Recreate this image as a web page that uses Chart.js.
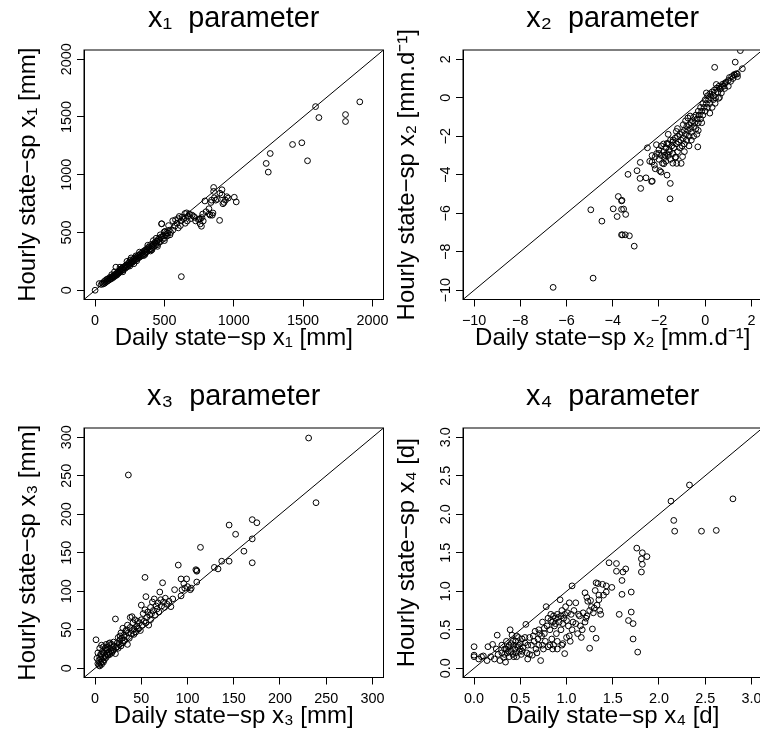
<!DOCTYPE html>
<html>
<head>
<meta charset="utf-8">
<script src="https://cdn.jsdelivr.net/npm/chart.js@4/dist/chart.umd.min.js"></script>
<style>
  body { margin: 0; background: #fff; }
  #wrap { position: relative; width: 760px; height: 735px; overflow: hidden; background: #fff; }
  canvas { position: absolute; }
</style>
</head>
<body>
<div id="wrap">
  <canvas id="c1" width="400" height="378" style="left:0;top:0"></canvas>
  <canvas id="c2" width="400" height="378" style="left:379px;top:0"></canvas>
  <canvas id="c3" width="400" height="378" style="left:0;top:378px"></canvas>
  <canvas id="c4" width="400" height="378" style="left:379px;top:378px"></canvas>
</div>
<script>
const FONT = "'Liberation Sans', Arial, Helvetica, sans-serif";

// x1 : [daily, hourly]
const x1Ticks = [0, 500, 1000, 1500, 2000];
const x1Pairs = [
  [0,0],[30,58],[45,50],[52,62],[60,55],[65,75],[70,62],[75,85],[80,72],[85,95],[90,80],[95,100],
  [100,88],[105,110],[108,95],[112,100],[118,115],[120,102],[125,118],[130,110],[133,125],[138,118],
  [142,135],[145,125],[150,200],[150,140],[155,130],[158,150],[162,140],[165,160],[170,148],[172,170],
  [176,155],[180,175],[183,162],[188,185],[190,170],[195,190],[198,175],[202,200],[205,180],[210,195],
  [214,205],[218,190],[222,215],[226,200],[230,220],[234,206],[238,232],[242,218],[246,240],[250,225],
  [254,262],[258,236],[262,250],[266,238],[270,262],[274,248],[278,270],[282,255],[286,280],[290,262],
  [294,298],[298,270],[302,290],[306,276],[310,300],[315,282],[320,305],[325,290],[330,318],[335,298],
  [340,325],[345,310],[350,338],[355,318],[360,345],[365,330],[370,355],[375,335],[380,368],[385,345],
  [390,375],[395,352],[400,395],[405,360],[410,385],[415,370],[420,400],[425,380],[430,412],[435,388],
  [440,405],[445,425],[450,395],[455,440],[460,415],[465,450],[470,420],[480,575],[475,460],[485,440],
  [490,470],[498,505],[510,480],[515,500],[525,495],[535,520],[540,480],[560,602],[480,576],[627,634],
  [648,664],[607,639],[660,670],[680,660],[700,650],[690,620],[665,600],[640,620],[615,560],[600,540],
  [590,580],[575,555],[560,520],[545,500],[530,560],[520,470],[505,510],[500,450],[600,620],[620,600],
  [580,610],[650,580],[670,640],[710,640],[622,118],
  [200,160],[250,210],[300,255],[350,300],[400,340],[450,380],[260,280],[320,330],[380,390],[420,430],
  [140,160],[180,200],[230,250],[500,430],[470,480],[440,450],[120,135],[280,230],[360,310],[410,350],
  [855,890],[855,856],[915,870],[915,827],[922,749],[960,798],[1004,805],[1018,765],[898,605],[792,773],
  [821,706],[823,660],[850,669],[881,787],[718,631],[751,617],[776,660],[758,574],[767,554],[940,780],
  [950,810],[930,760],[870,780],[840,780],[860,800],[845,650],[830,650],[835,760],[760,620],[745,610],
  [770,630],[800,680],[900,840],[725,600],[780,600],
  [1590,1590],[1614,1495],[1806,1521],[1806,1461],[1909,1631],[1424,1262],[1491,1277],[1532,1121],
  [1263,1184],[1234,1098],[1249,1023]
];

// x2 : [daily, hourly]
const x2Ticks = [-10, -8, -6, -4, -2, 0, 2];
const x2Pairs = [
  [-6.58,-9.85],[-4.85,-9.37],[-4.95,-5.82],[-4.47,-6.41],[-3.98,-5.77],[-3.76,-5.13],[-3.62,-5.36],
  [-3.6,-5.33],[-3.81,-6.17],[-3.62,-5.80],[-3.53,-5.78],[-3.44,-6.06],[-3.62,-7.12],[-3.46,-7.12],
  [-3.28,-7.17],[-3.58,-7.12],[-3.07,-7.71],[-3.34,-3.98],[-2.95,-3.79],[-2.81,-3.36],[-2.82,-4.19],
  [-2.79,-4.71],[-2.56,-4.16],[-2.30,-3.34],[-2.32,-4.35],[-2.29,-4.33],[-2.16,-3.69],[-2.11,-2.44],
  [-2.16,-3.06],[-2.01,-2.89],[-1.97,-3.79],[-1.91,-3.86],[-1.65,-4.02],[-1.51,-4.45],[-1.52,-5.25],
  [-1.79,-3.43],[-1.75,-2.98],[-1.65,-2.37],[-1.55,-2.81],[-1.39,-2.20],[-1.27,-3.08],[-1.23,-3.41],
  [-1.04,-3.41],[-0.98,-3.06],[-0.32,-2.55],[-0.36,-1.90],
  [-2.4,-3.3],[-2.3,-3.0],[-2.2,-3.5],[-2.1,-2.9],[-2.0,-3.2],[-2.0,-2.7],[-1.9,-3.0],[-1.9,-2.5],
  [-1.85,-3.4],[-1.8,-2.8],[-1.8,-2.4],[-1.75,-3.1],[-1.7,-2.6],[-1.7,-3.3],[-1.65,-2.9],[-1.6,-2.4],
  [-1.6,-3.0],[-1.55,-2.7],[-1.5,-2.2],[-1.5,-3.2],[-1.45,-2.5],[-1.4,-2.9],[-1.4,-2.3],[-1.35,-2.6],
  [-1.3,-2.1],[-1.3,-3.1],[-1.25,-2.4],[-1.2,-2.8],[-1.2,-2.0],[-1.15,-2.3],[-1.1,-2.6],[-1.1,-1.9],
  [-1.05,-2.2],[-1.0,-2.5],[-1.0,-1.8],[-0.95,-2.1],[-0.9,-1.7],[-0.9,-2.4],[-0.85,-1.9],[-0.8,-1.5],
  [-0.8,-2.2],[-0.75,-1.7],[-0.7,-1.4],[-0.7,-2.0],[-0.65,-1.6],[-0.6,-1.3],[-0.6,-1.8],[-0.55,-1.2],
  [-0.5,-1.5],[-0.5,-1.0],[-0.45,-1.3],[-0.4,-0.9],[-0.4,-1.6],[-0.35,-1.1],[-0.3,-0.7],[-0.3,-1.3],
  [-0.25,-0.9],[-0.2,-0.5],[-0.2,-1.1],[-0.15,-0.7],[-0.1,-0.3],[-0.1,-0.9],[-0.05,-0.5],[0.0,-0.1],
  [0.0,-0.7],[0.05,-0.3],[0.1,0.1],[0.1,-0.5],[0.15,-0.1],[0.2,0.2],[0.2,-0.3],[0.25,0.0],[0.3,0.3],
  [0.3,-0.5],[0.35,0.1],[0.4,0.4],[0.45,0.0],[0.5,0.5],[0.55,0.3],[0.6,0.6],[0.65,0.45],[0.7,0.55],
  [0.75,0.7],[0.8,0.6],[0.85,0.75],[0.9,0.8],[1.0,0.9],[1.05,1.05],[1.1,0.85],[1.15,1.1],[1.2,1.0],
  [1.25,1.2],[1.35,1.25],[1.4,1.1],[0.84,0.48],[0.58,-0.03],[0.43,-0.29],[0.62,0.02],
  [-0.85,-1.2],[-0.75,-1.05],[-0.65,-0.95],[-0.95,-1.4],[-1.25,-1.75],
  [-1.2,-1.6],[-0.6,-2.2],[-1.6,-1.9],[-0.3,-1.7],[0.2,-0.8],[-0.9,-2.8],[-1.4,-3.4],[-2.5,-2.6],
  [-0.5,-2.0],[0.35,-0.1],[0.7,0.25],[1.0,0.6],[-0.15,-1.3],[-0.7,-2.5],[0.05,0.25],
  [0.41,1.58],[0.48,0.69],[1.30,1.85],[1.61,1.51],[1.52,2.45],[1.27,1.18],[1.39,1.23]
];

// x3 : [daily, hourly]
const x3Ticks = [0, 50, 100, 150, 200, 250, 300];
const x3Pairs = [
  [2,13],[3,6],[3,20],[4,4],[4,10],[5,3],[5,15],[5,26],[6,7],[6,12],[7,5],[7,18],[7,30],[8,9],[8,22],
  [9,14],[9,28],[10,11],[10,20],[11,16],[11,26],[12,14],[12,31],[13,19],[13,24],[14,17],[14,28],[15,21],
  [15,32],[16,18],[16,26],[17,23],[18,31],[18,20],[19,27],[20,24],[20,34],[21,29],[22,19],[22,64],[23,27],
  [24,33],[25,26],[25,40],[26,31],[27,37],[28,29],[28,46],[29,39],[30,33],[30,52],[31,43],[32,36],[33,48],
  [34,41],[35,56],[35,31],[36,46],[37,39],[38,53],[38,66],[39,45],[40,67],[40,49],[41,59],[42,51],[43,63],
  [44,47],[45,55],[46,61],[47,51],[48,59],[49,49],[50,63],[50,82],[51,56],[52,71],[53,61],[54,118],[54,76],
  [55,93],[55,59],[56,66],[57,73],[58,56],[59,69],[60,79],[60,63],[61,71],[62,86],[63,75],[64,90],[65,69],
  [66,81],[67,77],[68,85],[69,73],[70,99],[71,89],[72,81],[73,111],[74,86],[75,79],[76,91],[78,83],[80,87],
  [82,80],[84,90],[86,102],[90,134],[93,94],[93,116],[94,102],[96,110],[97,104],[99,116],[100,106],
  [103,102],[104,104],[110,127],[110,126],[109,128],[110,112],[114,157],[129,131],[133,129],[137,139],
  [145,139],[145,186],[152,174],[161,152],[170,168],[170,137],[170,193],[175,189],[231,299],[239,215],
  [36,251],[1,37],[6,18],[9,8],[12,24],[16,33],[19,22],[24,28],[27,42],[31,36],[34,50],[42,44],[46,52]
];

// x4 : [daily, hourly]
const x4Ticks = [0, 0.5, 1, 1.5, 2, 2.5, 3];
const x4Pairs = [
  [0.0,0.28],[0.0,0.17],[0.0,0.15],[0.05,0.12],[0.08,0.15],[0.1,0.16],[0.14,0.1],[0.15,0.28],[0.18,0.15],
  [0.2,0.31],[0.22,0.12],[0.24,0.25],[0.25,0.43],[0.26,0.18],[0.28,0.1],[0.3,0.3],[0.3,0.2],[0.32,0.14],
  [0.33,0.25],[0.34,0.08],[0.35,0.35],[0.36,0.2],[0.37,0.28],[0.38,0.15],[0.39,0.5],[0.4,0.32],[0.4,0.22],
  [0.41,0.43],[0.42,0.18],[0.43,0.3],[0.44,0.25],[0.45,0.35],[0.46,0.15],[0.47,0.28],[0.48,0.4],[0.49,0.22],
  [0.5,0.32],[0.51,0.18],[0.52,0.38],[0.53,0.27],[0.55,0.33],[0.56,0.57],[0.57,0.2],[0.58,0.12],[0.6,0.4],
  [0.62,0.3],[0.63,0.17],[0.65,0.35],[0.66,0.48],[0.68,0.2],[0.7,0.5],[0.7,0.3],[0.72,0.1],[0.73,0.42],
  [0.74,0.6],[0.75,0.25],[0.76,0.45],[0.77,0.35],[0.78,0.8],[0.79,0.55],[0.8,0.28],[0.8,0.65],[0.82,0.5],
  [0.83,0.7],[0.84,0.38],[0.85,0.6],[0.86,0.3],[0.87,0.55],[0.88,0.65],[0.89,0.45],[0.9,0.7],[0.9,0.25],
  [0.92,0.6],[0.93,0.89],[0.94,0.5],[0.95,0.75],[0.96,0.32],[0.97,0.65],[0.98,0.19],[0.99,0.8],[1.0,0.4],
  [1.01,0.72],[1.02,0.55],[1.03,0.85],[1.04,0.35],[1.05,0.7],[1.06,1.07],[1.07,0.6],[1.08,0.75],[1.1,0.85],
  [1.12,0.45],[1.13,0.7],[1.15,0.55],[1.16,0.4],[1.18,0.72],[1.2,0.98],[1.21,0.65],[1.22,0.92],[1.23,0.87],
  [1.25,0.26],[1.25,0.75],[1.27,0.8],[1.28,0.51],[1.3,0.78],[1.31,1.01],[1.32,1.11],[1.32,0.39],[1.34,1.10],
  [1.35,0.89],[1.36,0.75],[1.37,0.7],[1.39,1.09],[1.43,1.07],[1.43,0.99],[1.46,1.37],[1.49,1.05],[1.54,1.36],
  [1.54,1.26],[1.57,0.70],[1.6,1.14],[1.6,0.96],[1.61,1.25],[1.64,1.29],[1.67,0.62],[1.7,0.99],[1.7,0.73],
  [1.72,0.58],[1.72,0.38],[1.77,0.21],[1.76,1.56],[1.82,1.50],[1.81,1.42],[1.87,1.45],[1.82,1.35],[1.81,1.25],
  [2.13,2.17],[2.16,1.92],[2.17,1.78],[2.33,2.38],[2.46,1.78],[2.62,1.79],[2.80,2.20],
  [0.35,0.25],[0.38,0.3],[0.42,0.35],[0.45,0.2],[0.48,0.3],[0.5,0.25],[0.43,0.15],[0.37,0.22],[0.33,0.18],
  [0.46,0.42],[0.52,0.22],[0.55,0.4],[0.58,0.3],[0.6,0.18],[0.64,0.42],[0.67,0.25],[0.69,0.38],[0.71,0.45],
  [0.74,0.3],[0.76,0.52],[0.83,0.62],[0.86,0.68],[0.88,0.58],[0.91,0.66],[0.94,0.68],[0.96,0.58],[0.98,0.7],
  [1.0,0.62],[0.82,0.3],[0.85,0.25],[0.9,0.35],[0.95,0.3],[1.03,0.42],[1.06,0.5],[1.1,0.58],[1.14,0.68],
  [1.17,0.5],[1.2,0.6],[1.22,0.68],[1.26,0.88],[1.29,0.72],[1.33,0.82],[1.35,0.95],[1.4,0.95]
];

// plot box drawn round the chart area, like R's box()
const boxPlugin = {
  id: 'plotBox',
  afterDatasetsDraw(chart) {
    const { ctx, chartArea: a } = chart;
    ctx.save();
    ctx.strokeStyle = '#000';
    ctx.lineWidth = 1;
    ctx.strokeRect(a.left, a.top, a.right - a.left, a.bottom - a.top);
    ctx.restore();
  }
};

function makePanel(id, title, xLabel, yLabel, ticks, pairs, dec) {
  const span = ticks[ticks.length - 1] - ticks[0];
  const lo = ticks[0] - 0.04 * span;
  const hi = ticks[ticks.length - 1] + 0.04 * span;
  const fmt = v => (dec ? v.toFixed(dec) : String(v)).replace('-', '\u2212');

  // centre the rotated y labels at a fixed distance from the axis
  const m = document.createElement('canvas').getContext('2d');
  m.font = '14.4px ' + FONT;
  const widest = Math.max(...ticks.map(t => m.measureText(fmt(t)).width));
  const yPad = 10 - widest / 2;

  const tickFont = { family: FONT, size: 14.4 };
  const labFont = { family: FONT, size: 24 };
  const grid = { drawOnChartArea: false, drawTicks: true, tickLength: 7, color: '#000', lineWidth: 1 };
  const setTicks = s => { s.ticks = ticks.map(v => ({ value: v })); };

  new Chart(document.getElementById(id), {
    type: 'scatter',
    data: {
      datasets: [
        {
          data: pairs.map(p => ({ x: p[0], y: p[1] })),
          pointStyle: 'circle',
          pointRadius: 2.9,
          pointBorderWidth: 1,
          borderColor: '#000',
          backgroundColor: 'rgba(0,0,0,0)'
        },
        {
          type: 'line',
          data: [{ x: lo, y: lo }, { x: hi, y: hi }],
          borderColor: '#000',
          borderWidth: 1,
          pointRadius: 0,
          showLine: true,
          fill: false
        }
      ]
    },
    options: {
      responsive: false,
      animation: false,
      events: [],
      layout: { padding: { left: 0, top: 0, right: 16.5, bottom: 25.2 } },
      scales: {
        x: {
          type: 'linear', min: lo, max: hi,
          afterBuildTicks: setTicks,
          afterFit: s => { s.height = 53.3; },
          ticks: { autoSkip: false, minRotation: 0, maxRotation: 0, padding: 6, color: '#000', font: tickFont, callback: v => fmt(v) },
          grid: grid,
          border: { display: true, color: '#000', width: 1 },
          title: { display: true, text: xLabel, color: '#000', font: labFont, padding: { top: 0, bottom: 0 } }
        },
        y: {
          type: 'linear', min: lo, max: hi,
          afterBuildTicks: setTicks,
          afterFit: s => { s.width = 84; },
          ticks: { autoSkip: false, minRotation: 90, maxRotation: 90, crossAlign: 'center', padding: yPad, color: '#000', font: tickFont, callback: v => fmt(v) },
          grid: grid,
          border: { display: true, color: '#000', width: 1 },
          title: { display: true, text: yLabel, color: '#000', font: labFont, padding: { top: 14, bottom: 0 } }
        }
      },
      plugins: {
        legend: { display: false },
        tooltip: { enabled: false },
        title: {
          display: true, text: title, fullSize: false, color: '#000',
          font: { family: FONT, size: 28.8, weight: 'normal' },
          padding: { top: 2, bottom: 13.44 }
        }
      }
    },
    plugins: [boxPlugin]
  });
}

makePanel('c1', 'x\u2081  parameter', 'Daily state\u2212sp x\u2081 [mm]', 'Hourly state\u2212sp x\u2081 [mm]', x1Ticks, x1Pairs, 0);
makePanel('c2', 'x\u2082  parameter', 'Daily state\u2212sp x\u2082 [mm.d\u207B\u00B9]', 'Hourly state\u2212sp x\u2082 [mm.d\u207B\u00B9]', x2Ticks, x2Pairs, 0);
makePanel('c3', 'x\u2083  parameter', 'Daily state\u2212sp x\u2083 [mm]', 'Hourly state\u2212sp x\u2083 [mm]', x3Ticks, x3Pairs, 0);
makePanel('c4', 'x\u2084  parameter', 'Daily state\u2212sp x\u2084 [d]', 'Hourly state\u2212sp x\u2084 [d]', x4Ticks, x4Pairs, 1);
</script>
</body>
</html>
